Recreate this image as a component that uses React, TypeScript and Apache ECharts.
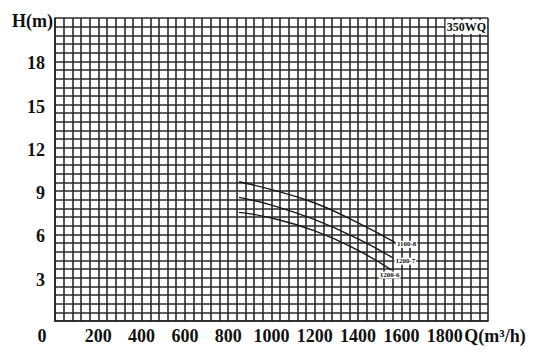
import React, { useEffect, useRef } from "react";
import * as echarts from "echarts";

const xTicks = [0, 200, 400, 600, 800, 1000, 1200, 1400, 1600, 1800, 2000];
const yTicks = [0, 3, 6, 9, 12, 15, 18, 21];

const curve1Q = [850, 1000, 1200, 1400, 1570];
const curve1H = [9.65, 9.1, 8.18, 6.8, 5.45];
const curve2Q = [850, 1000, 1200, 1400, 1563];
const curve2H = [8.57, 8.03, 7.02, 5.69, 4.35];
const curve3Q = [850, 1000, 1200, 1400, 1555];
const curve3H = [7.53, 7.14, 6.24, 4.89, 3.53];
const curveNames = ["1100-8", "1200-7", "1200-6"];
const modelName = "350WQ";

const FONT = "'Liberation Serif', 'DejaVu Serif', serif";

export default function App() {
  const ref = useRef<HTMLDivElement>(null);
  useEffect(() => {
    if (!ref.current) return;
    document.body.style.margin = "0";
    const chart = echarts.init(ref.current, undefined, { renderer: "svg" });
    const mk = (qs: number[], hs: number[], name: string, off: number[]) => ({
      type: "line",
      name,
      smooth: true,
      symbol: "none",
      color: "#1a1a1a",
      itemStyle: { color: "#1a1a1a" },
      lineStyle: { color: "#1a1a1a", width: 1.4 },
      endLabel: {
        show: true,
        formatter: name,
        distance: 1,
        offset: off,
        fontSize: 7,
        fontWeight: "bold",
        fontFamily: FONT,
        color: "#111",
        backgroundColor: "#fff",
        padding: [0, 1],
      },
      data: qs.map((q, i) => [q, hs[i]]),
    });
    const series = [
      mk(curve1Q, curve1H, curveNames[0], [0, 2]),
      mk(curve2Q, curve2H, curveNames[1], [0, 3]),
      mk(curve3Q, curve3H, curveNames[2], [-14, 5]),
    ];
    const lbl = { fontSize: 18, fontWeight: "bold", fontFamily: FONT, color: "#111" };
    chart.setOption({
      animation: false,
      backgroundColor: "#fff",
      color: ["#1a1a1a", "#1a1a1a", "#1a1a1a"],
      grid: { left: 55, right: 58, top: 18, bottom: 40, containLabel: false },
      xAxis: {
        type: "value",
        min: xTicks[0],
        max: xTicks[xTicks.length - 1],
        interval: 200,
        axisLine: { show: true, lineStyle: { color: "#222", width: 1.6 } },
        axisTick: { show: false },
        minorTick: { show: false, splitNumber: 5 },
        splitLine: { show: true, lineStyle: { color: "#2a2a2a", width: 1.6 } },
        minorSplitLine: { show: true, lineStyle: { color: "#2a2a2a", width: 1.6 } },
        axisLabel: {
          show: true,
          showMinLabel: true,
          showMaxLabel: true,
          margin: 6,
          ...lbl,
          formatter: (v: number) => {
            if (v === xTicks[0]) return "{z|0}";
            if (v === xTicks[xTicks.length - 1]) return "{q|Q(m³/h)}";
            return "{n|" + v + "}";
          },
          rich: {
            z: { ...lbl, padding: [0, 26, 0, 0] },
            q: { ...lbl, padding: [0, 0, 0, 14] },
            n: { ...lbl },
          },
        },
      },
      yAxis: {
        type: "value",
        min: yTicks[0],
        max: yTicks[yTicks.length - 1],
        interval: 3,
        axisLine: { show: true, lineStyle: { color: "#222", width: 1.6 } },
        axisTick: { show: false },
        minorTick: { show: false, splitNumber: 5 },
        splitLine: { show: true, lineStyle: { color: "#2a2a2a", width: 1.6 } },
        minorSplitLine: { show: true, lineStyle: { color: "#2a2a2a", width: 1.6 } },
        axisLabel: {
          show: true,
          showMinLabel: true,
          showMaxLabel: true,
          margin: 2,
          ...lbl,
          formatter: (v: number) => {
            if (v === yTicks[0]) return "";
            if (v === yTicks[yTicks.length - 1]) return "{h|H(m)}";
            return "{n|" + v + "}";
          },
          rich: {
            h: { ...lbl, padding: [6, 0, 0, 0] },
            n: { ...lbl, padding: [4, 8, 0, 0] },
          },
        },
      },
      graphic: [
        {
          type: "text",
          right: 59,
          top: 20,
          z: 100,
          style: {
            text: modelName,
            fontSize: 12,
            fontWeight: "bold",
            fontFamily: FONT,
            fill: "#111",
            backgroundColor: "#fff",
            padding: [1, 1],
          },
        },
      ],
      series,
    });
    return () => chart.dispose();
  }, []);
  return <div ref={ref} style={{ width: 546, height: 361 }} />;
}
